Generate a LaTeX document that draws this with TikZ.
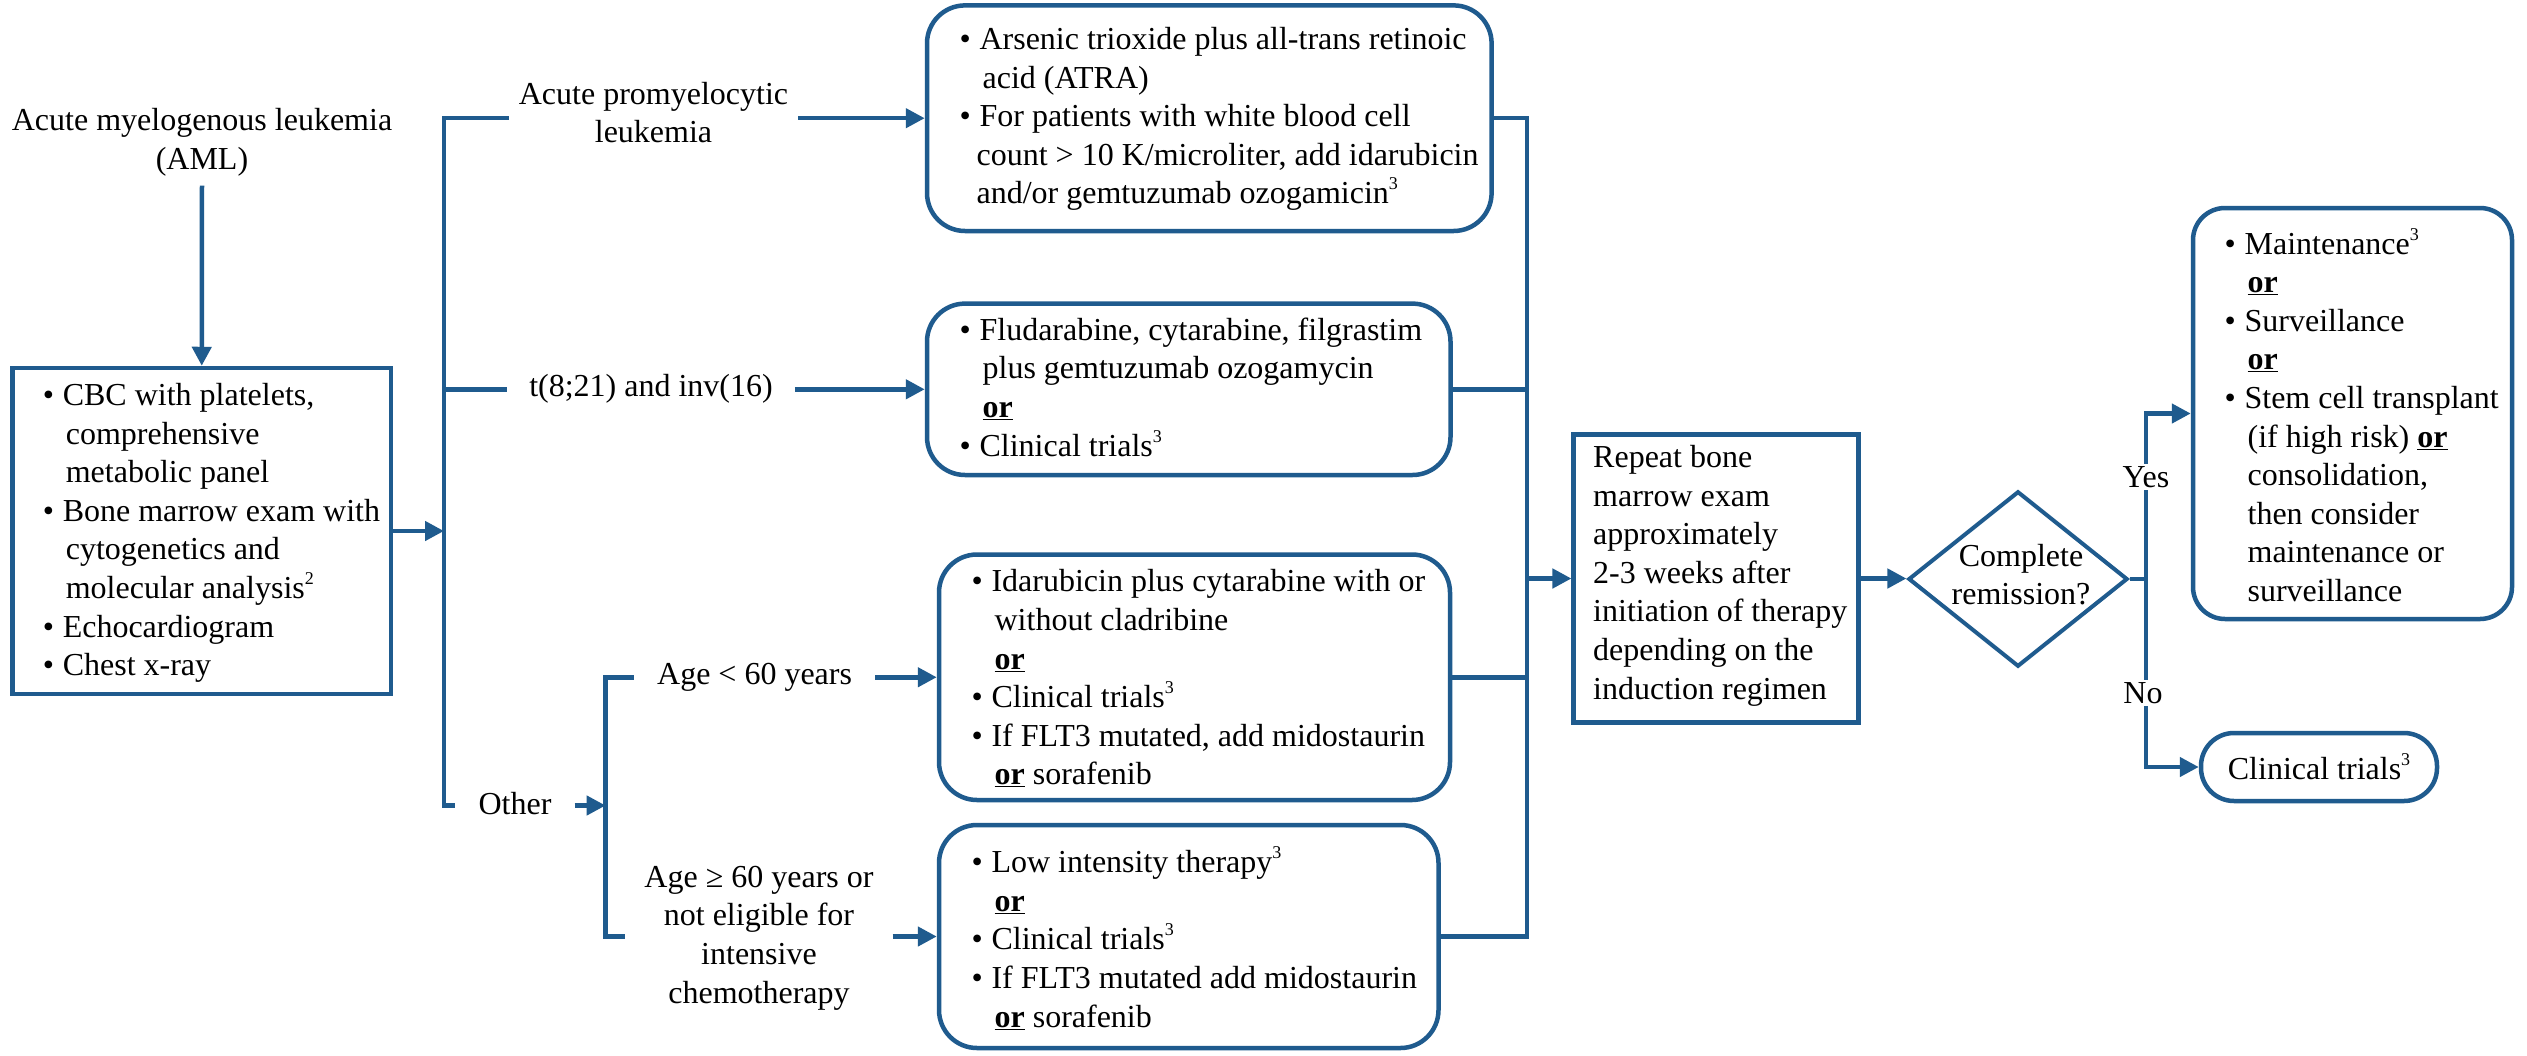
\documentclass[tikz,border=0pt]{standalone}
\usepackage{fontspec}
\setmainfont{Liberation Serif}
\usetikzlibrary{arrows.meta,shapes.geometric}
\definecolor{lb}{RGB}{31,91,142}
\newcommand\myfs{\fontsize{32pt}{38.6pt}\selectfont}
\newcommand\bul{\makebox[20pt][l]{\textbullet}}
\newcommand\ind[1][23pt]{\hspace*{#1}}
\newcommand\ors{\underline{\textbf{or}}}
\newcommand\sps[1]{\raisebox{14pt}{\fontsize{18pt}{18pt}\selectfont #1}}
\begin{document}
\begin{tikzpicture}[x=1pt,y=-1pt,
  conn/.style={draw=lb,line width=4.5pt},
  arr/.style={conn,-{Triangle[length=19pt,width=19pt]}},
  sqbox/.style={draw=lb,line width=4.5pt,rectangle,inner sep=0pt},
  rbox/.style={draw=lb,line width=4.5pt,rectangle,rounded corners=38pt,inner sep=0pt},
  txt/.style={inner sep=0pt,align=left,anchor=west,font=\myfs},
  lbl/.style={inner ysep=0pt,align=center,font=\myfs},
]
\fill[white] (0,0) rectangle (2527,1055);
\useasboundingbox (0,0) rectangle (2527,1055);

% left part
\node[lbl] (aml) at (202,142.5) {Acute myelogenous leukemia\\(AML)};
\node[sqbox,minimum width=378.5pt,minimum height=326pt] (cbc) at (201.75,531) {};
\node[txt] (cbct) at (42.6,533) {\bul CBC with platelets,\\\ind comprehensive\\\ind metabolic panel\\\bul Bone marrow exam with\\\ind cytogenetics and\\\ind molecular analysis\sps{2}\\\bul Echocardiogram\\\bul Chest x-ray};
\draw[arr] ([yshift=-9pt]aml.south) -- (cbc.north);

% branch labels
\node[lbl,inner xsep=10pt] (apl) at (653.5,112.5) {Acute promyelocytic\\leukemia};
\node[lbl,inner xsep=22pt] (t821) at (651,389) {t(8;21) and inv(16)};
\node[lbl,inner xsep=23pt] (oth) at (515,804) {Other};
\node[lbl,inner xsep=23pt] (age1) at (754.6,677) {Age < 60 years};
\node[lbl,inner xsep=19pt] (age2) at (759,938) {Age ≥ 60 years or\\not eligible for\\intensive\\chemotherapy};

% treatment boxes
\node[rbox,minimum width=564.6pt,minimum height=225.6pt] (tx1) at (1209.3,118.2) {};
\node[rbox,minimum width=523.5pt,minimum height=171.4pt] (tx2) at (1188.75,389.3) {};
\node[rbox,minimum width=511pt,minimum height=245.5pt] (tx3) at (1194.5,677.25) {};
\node[rbox,minimum width=499.5pt,minimum height=223pt] (tx4) at (1188.75,936.5) {};

\node[txt] (tx1t) at (959.4,119) {\bul Arsenic trioxide plus all-trans retinoic\\\ind acid (ATRA)\\\bul For patients with white blood cell\\\ind[17pt]count > 10 K/microliter, add idarubicin\\\ind[17pt]and/or gemtuzumab ozogamicin\sps{3}};
\node[txt] (tx2t) at (959.4,387) {\bul Fludarabine, cytarabine, filgrastim\\\ind plus gemtuzumab ozogamycin\\\ind\ors\\\bul Clinical trials\sps{3}};
\node[txt] (tx3t) at (971.4,678.5) {\bul Idarubicin plus cytarabine with or\\\ind without cladribine\\\ind\ors\\\bul Clinical trials\sps{3}\\\bul If FLT3 mutated, add midostaurin\\\ind\ors{} sorafenib};
\node[txt] (tx4t) at (971.4,938) {\bul Low intensity therapy\sps{3}\\\ind\ors\\\bul Clinical trials\sps{3}\\\bul If FLT3 mutated add midostaurin\\\ind\ors{} sorafenib};

% bracket 1
\coordinate (b1t) at (444,118.2);
\coordinate (b1m) at (444,389.3);
\coordinate (b1b) at (444,805.5);
\coordinate (b1c) at (444,531);
\draw[conn] (apl.west |- b1t) -- (b1t) -- (b1b) -- (oth.west |- b1b);
\draw[conn] (b1m) -- (t821.west |- b1m);
\draw[arr] (cbc.east) -- (b1c);
\draw[arr] (apl.east |- tx1.west) -- (tx1.west);
\draw[arr] (t821.east |- tx2.west) -- (tx2.west);

% bracket 2
\coordinate (b2t) at (605.6,677.25);
\coordinate (b2b) at (605.6,936.5);
\coordinate (b2c) at (605.6,805.5);
\draw[arr] (oth.east |- b2c) -- (b2c);
\draw[conn] (age1.west |- b2t) -- (b2t) -- (b2b) -- (age2.west |- b2b);
\draw[arr] (age1.east |- tx3.west) -- (tx3.west);
\draw[arr] (age2.east |- tx4.west) -- (tx4.west);

% collector
\node[sqbox,minimum width=284.8pt,minimum height=288pt] (rep) at (1716.1,578.5) {};
\node[txt] (rept) at (1593,575.6) {Repeat bone\\marrow exam\\approximately\\2-3 weeks after\\initiation of therapy\\depending on the\\induction regimen};
\coordinate (ct) at (1527,118.2);
\coordinate (cb) at (1527,936.5);
\coordinate (cc) at (1527,578.5);
\draw[conn] (tx1.east) -- (ct) -- (cb) -- (tx4.east);
\draw[conn] (tx2.east) -- (tx2.east -| ct);
\draw[conn] (tx3.east) -- (tx3.east -| ct);
\draw[arr] (cc) -- (rep.west);

% decision
\node[draw=lb,line width=4pt,diamond,minimum width=219.2pt,minimum height=175.4pt,inner sep=0pt] (dia) at (2018,579) {};
\node[lbl,inner sep=0pt] (diat) at (2021,574.5) {Complete\\remission?};
\draw[arr] (rep.east) -- (rep.east -| dia.west);

\node[rbox,rounded corners=32pt,minimum width=319pt,minimum height=411pt] (mnt) at (2352.5,413.5) {};
\node[txt] (mntt) at (2224.4,415) {\bul Maintenance\sps{3}\\\ind\ors\\\bul Surveillance\\\ind\ors\\\bul Stem cell transplant\\\ind(if high risk) \ors\\\ind consolidation,\\\ind then consider\\\ind maintenance or\\\ind surveillance};
\node[draw=lb,line width=4.5pt,rounded corners=33pt,minimum width=236pt,minimum height=68pt,inner sep=0pt,font=\myfs] (ct3) at (2319,767) {Clinical trials\sps{3}};

\coordinate (br) at (2146,579);
\draw[conn] (dia.east) -- (br);
\draw[arr] (br) |- (mnt.west);
\draw[arr] (br) |- (ct3.west);
\node[lbl,fill=white,inner sep=2pt] (yes) at (2146,477) {Yes};
\node[lbl,fill=white,inner sep=2pt] (no) at (2143,693) {No};
\end{tikzpicture}
\end{document}
